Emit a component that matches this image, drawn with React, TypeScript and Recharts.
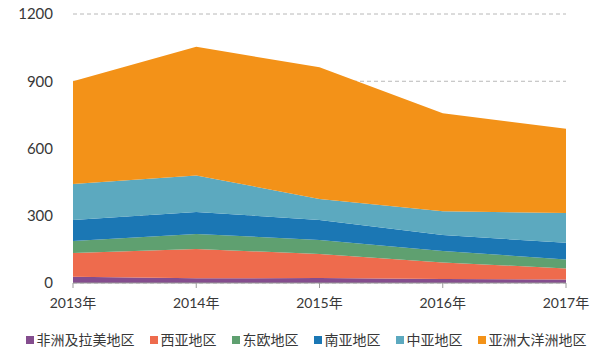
import { AreaChart, Area, XAxis, YAxis, CartesianGrid, Legend } from "recharts";

const years = ["2013年", "2014年", "2015年", "2016年", "2017年"];
const africaLatam = [28, 21, 22, 18, 16];
const westAsia = [106, 131, 107, 74, 49];
const eastEurope = [53, 67, 63, 51, 40];
const southAsia = [94, 98, 89, 71, 74];
const centralAsia = [161, 163, 94, 106, 133];
const asiaOceania = [458, 574, 587, 437, 376];
const yTicks = [0, 300, 600, 900, 1200];

const series = [
    { key: "africaLatam", name: "非洲及拉美地区", color: "#844d8e" },
    { key: "westAsia", name: "西亚地区", color: "#ee6b4d" },
    { key: "eastEurope", name: "东欧地区", color: "#5fa070" },
    { key: "southAsia", name: "南亚地区", color: "#1b77b4" },
    { key: "centralAsia", name: "中亚地区", color: "#5ca9bf" },
    { key: "asiaOceania", name: "亚洲大洋洲地区", color: "#f39218" },
];

const data = years.map((year, i) => ({
    year,
    africaLatam: africaLatam[i],
    westAsia: westAsia[i],
    eastEurope: eastEurope[i],
    southAsia: southAsia[i],
    centralAsia: centralAsia[i],
    asiaOceania: asiaOceania[i],
}));

const font = "Lato, 'Noto Sans CJK SC', sans-serif";

// legend built from the series list so the order stays as declared
function LegendRow() {
    return (
        <div style={{ display: "flex", justifyContent: "center", gap: 15, paddingLeft: 12, fontFamily: font, fontSize: 14, color: "#383838", lineHeight: "20px" }}>
            {series.map((s) => (
                <div key={s.key} style={{ display: "flex", alignItems: "center" }}>
                    <span style={{ width: 8, height: 8, background: s.color, marginRight: 3, display: "inline-block" }} />
                    <span>{s.name}</span>
                </div>
            ))}
        </div>
    );
}

export default function App() {
    return (
        <div>
            <style>{`body{margin:0}`}</style>
            <AreaChart width={600} height={358} data={data} margin={{ top: 14, right: 34, left: 0, bottom: 25 }}>
                <CartesianGrid vertical={false} stroke="#b8b8b8" strokeDasharray="4 3" />
                <XAxis
                    dataKey="year"
                    stroke="#9a9a9a"
                    tickSize={5}
                    tickMargin={10}
                    tick={{ fill: "#383838", fontSize: 14, fontFamily: font }}
                />
                <YAxis
                    width={73}
                    domain={[0, 1200]}
                    ticks={yTicks}
                    axisLine={false}
                    tickLine={false}
                    tickSize={0}
                    tickMargin={20}
                    tick={{ fill: "#383838", fontSize: 15, fontFamily: font }}
                />
                <Legend
                    content={<LegendRow />}
                    verticalAlign="bottom"
                    wrapperStyle={{ bottom: 8, left: 0, width: 600 }}
                />
                {series.map((s) => (
                    <Area
                        key={s.key}
                        dataKey={s.key}
                        name={s.name}
                        type="linear"
                        stackId="a"
                        stroke="none"
                        fill={s.color}
                        fillOpacity={1}
                        isAnimationActive={false}
                    />
                ))}
            </AreaChart>
        </div>
    );
}
